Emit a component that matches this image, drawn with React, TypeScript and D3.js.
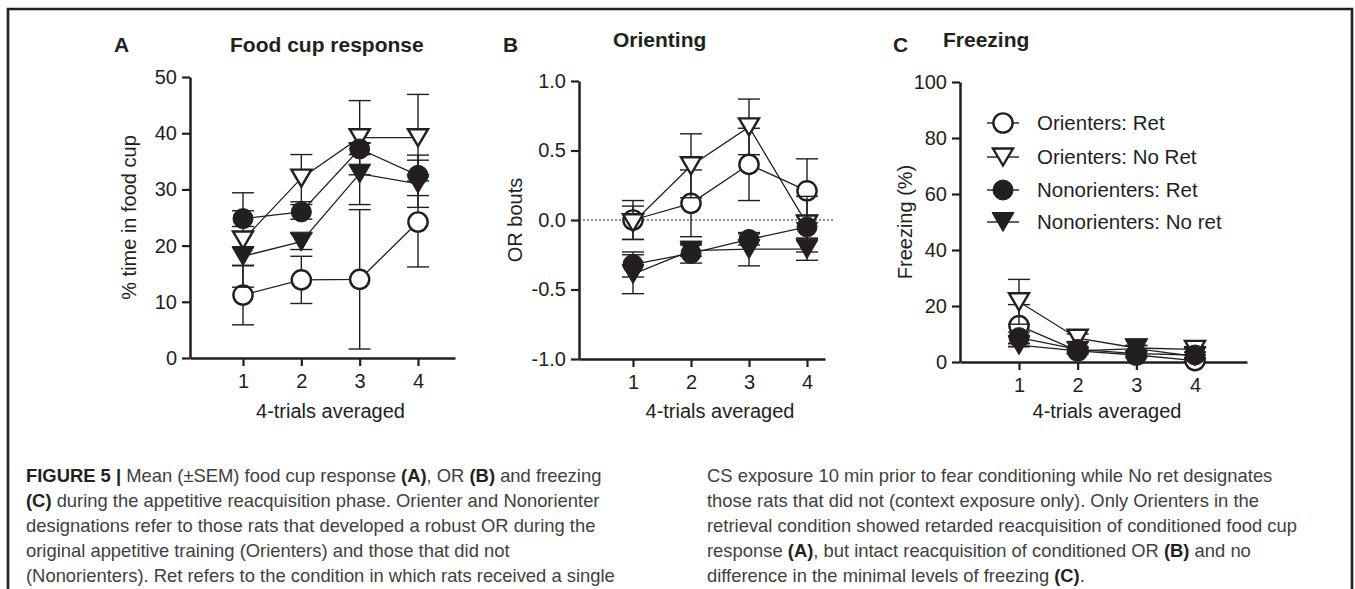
import React, { useEffect, useRef } from 'react';
import * as d3 from 'd3';

// x positions (4-trial blocks)
const trials = [1, 2, 3, 4];

// series: Orienters Ret, Orienters No Ret, Nonorienters Ret, Nonorienters No ret
const groupLabels = ['Orienters: Ret', 'Orienters: No Ret', 'Nonorienters: Ret', 'Nonorienters: No ret'];
const groupShapes = ['circle', 'triangle', 'circle', 'triangle'];
const groupFilled = [false, false, true, true];

// A - food cup response (%)
const foodMeans = [
    [11.2, 13.9, 14.0, 24.2],
    [21.0, 32.0, 39.2, 39.2],
    [24.8, 26.0, 37.2, 32.5],
    [18.1, 20.7, 32.8, 31.0],
];
const foodSems = [
    [5.3, 4.2, 12.4, 8.0],
    [8.4, 4.2, 6.6, 7.7],
    [1.4, 1.3, 1.0, 3.6],
    [1.7, 1.4, 5.5, 4.2],
];
const foodTicks = [0, 10, 20, 30, 40, 50];

// B - orienting bouts
const orientMeans = [
    [0.0, 0.12, 0.40, 0.21],
    [-0.02, 0.39, 0.67, -0.03],
    [-0.32, -0.24, -0.14, -0.05],
    [-0.39, -0.22, -0.21, -0.21],
];
const orientSems = [
    [0.14, 0.24, 0.26, 0.23],
    [0.12, 0.23, 0.2, 0.2],
    [0.09, 0.07, 0.04, 0.085],
    [0.14, 0.04, 0.12, 0.08],
];
const orientTicks = [-1, -0.5, 0, 0.5, 1];

// C - freezing (%)
const freezeMeans = [
    [13.0, 4.0, 2.5, 0.5],
    [21.5, 8.5, 5.0, 4.5],
    [8.7, 4.5, 3.0, 2.5],
    [6.0, 4.0, 4.8, 2.0],
];
const freezeSems = [
    [7.5, 1.0, 1.0, 0.5],
    [8.0, 1.5, 1.0, 1.0],
    [2.0, 1.0, 1.0, 1.0],
    [0.5, 1.0, 1.0, 0.5],
];
const freezeTicks = [0, 20, 40, 60, 80, 100];

const captionLeft = [
    [['FIGURE 5 | ', true], ['Mean (±SEM) food cup response ', false], ['(A)', true], [', OR ', false], ['(B)', true], [' and freezing', false]],
    [['(C)', true], [' during the appetitive reacquisition phase. Orienter and Nonorienter', false]],
    [['designations refer to those rats that developed a robust OR during the', false]],
    [['original appetitive training (Orienters) and those that did not', false]],
    [['(Nonorienters). Ret refers to the condition in which rats received a single', false]],
];
const captionRight = [
    [['CS exposure 10 min prior to fear conditioning while No ret designates', false]],
    [['those rats that did not (context exposure only). Only Orienters in the', false]],
    [['retrieval condition showed retarded reacquisition of conditioned food cup', false]],
    [['response ', false], ['(A)', true], [', but intact reacquisition of conditioned OR ', false], ['(B)', true], [' and no', false]],
    [['difference in the minimal levels of freezing ', false], ['(C)', true], ['.', false]],
];

const INK = '#231f20';
const FONT = 'Arial, "Liberation Sans", Helvetica, sans-serif';

const panels = [
    {
        letter: 'A', title: 'Food cup response', letterX: 114, titleX: 230, titleY: 52,
        yLabel: '% time in food cup', yLabelX: 129,
        axisX: 190, axisEnd: 455, x1: 243, x4: 418, yTop: 77, yBot: 358,
        domain: [0, 50], ticks: foodTicks, fmt: d3.format('d'),
        means: foodMeans, sems: foodSems, zeroLine: false,
    },
    {
        letter: 'B', title: 'Orienting', letterX: 503, titleX: 613, titleY: 47,
        yLabel: 'OR bouts', yLabelX: 515,
        axisX: 579, axisEnd: 825, x1: 633, x4: 807, yTop: 81, yBot: 359,
        domain: [-1, 1], ticks: orientTicks, fmt: (d: number) => d.toFixed(1),
        means: orientMeans, sems: orientSems, zeroLine: true,
    },
    {
        letter: 'C', title: 'Freezing', letterX: 893, titleX: 943, titleY: 47,
        yLabel: 'Freezing (%)', yLabelX: 905,
        axisX: 960, axisEnd: 1247, x1: 1019, x4: 1195, yTop: 82, yBot: 362,
        domain: [0, 100], ticks: freezeTicks, fmt: d3.format('d'),
        means: freezeMeans, sems: freezeSems, zeroLine: false,
    },
];

const triPath = (w: number, h: number) => `M${-w / 2},${-h / 2}L${w / 2},${-h / 2}L0,${h / 2}Z`;

function drawMarker(g: any, shape: string, filled: boolean, x: number, y: number) {
    if (shape === 'circle') {
        g.append('circle')
            .attr('cx', x).attr('cy', y).attr('r', filled ? 10 : 9.6)
            .attr('fill', filled ? INK : '#fff')
            .attr('stroke', INK).attr('stroke-width', filled ? 1 : 2.4);
    } else {
        g.append('path')
            .attr('transform', `translate(${x},${y})`)
            .attr('d', filled ? triPath(22, 19) : triPath(20, 17))
            .attr('fill', filled ? INK : '#fff')
            .attr('stroke', INK).attr('stroke-width', filled ? 1 : 2.4)
            .attr('stroke-linejoin', 'miter');
    }
}

const App: React.FC = () => {
    const svgRef = useRef<SVGSVGElement>(null);

    useEffect(() => {
        if (!svgRef.current) return;
        const svg = d3.select(svgRef.current);
        svg.selectAll('*').remove();

        // outer frame (open at the bottom)
        svg.append('path')
            .attr('d', 'M8,589V9H1352V589')
            .attr('fill', 'none').attr('stroke', INK).attr('stroke-width', 2.6);

        panels.forEach((p) => {
            const xScale = d3.scaleLinear().domain([1, 4]).range([p.x1, p.x4]);
            const yScale = d3.scaleLinear().domain(p.domain).range([p.yBot, p.yTop]);
            const g = svg.append('g').attr('font-family', FONT);

            g.append('text').attr('x', p.letterX).attr('y', 52)
                .attr('font-size', 21).attr('font-weight', 'bold').attr('fill', INK).text(p.letter);
            g.append('text').attr('x', p.titleX).attr('y', p.titleY)
                .attr('font-size', 21).attr('font-weight', 'bold').attr('fill', INK).text(p.title);

            // y axis
            const yAxis = g.append('g')
                .attr('transform', `translate(${p.axisX},0)`)
                .call(d3.axisLeft(yScale).tickValues(p.ticks).tickFormat(p.fmt as any).tickSize(8).tickSizeOuter(0).tickPadding(5));
            // x axis
            const xAxisScale = d3.scaleLinear()
                .domain([xScale.invert(p.axisX), xScale.invert(p.axisEnd)])
                .range([p.axisX, p.axisEnd]);
            const xAxis = g.append('g')
                .attr('transform', `translate(0,${p.yBot})`)
                .call(d3.axisBottom(xAxisScale).tickValues(trials).tickFormat(d3.format('d') as any).tickSize(8).tickSizeOuter(0).tickPadding(8));
            [yAxis, xAxis].forEach((ax) => {
                ax.select('.domain').attr('stroke', INK).attr('stroke-width', 2.5);
                ax.selectAll('.tick line').attr('stroke', INK).attr('stroke-width', 2.2);
                ax.selectAll('.tick text').attr('fill', INK).attr('font-size', 20).attr('font-family', FONT);
            });

            g.append('text')
                .attr('transform', `translate(${p.yLabelX},${(p.yTop + p.yBot) / 2}) rotate(-90)`)
                .attr('text-anchor', 'middle').attr('dy', '0.35em')
                .attr('font-size', 20).attr('fill', INK).text(p.yLabel);
            g.append('text')
                .attr('x', (p.x1 + p.x4) / 2).attr('y', 418)
                .attr('text-anchor', 'middle').attr('font-size', 20).attr('fill', INK)
                .text('4-trials averaged');

            if (p.zeroLine) {
                g.append('line')
                    .attr('x1', p.axisX).attr('x2', p.axisEnd + 8)
                    .attr('y1', yScale(0)).attr('y2', yScale(0))
                    .attr('stroke', INK).attr('stroke-width', 1.2).attr('stroke-dasharray', '2,2');
            }

            const line = d3.line<number>()
                .x((d, i) => xScale(trials[i]))
                .y((d) => yScale(d));

            p.means.forEach((series, s) => {
                const sg = g.append('g');
                series.forEach((m, i) => {
                    const x = xScale(trials[i]);
                    const hi = yScale(m + p.sems[s][i]);
                    const lo = yScale(m - p.sems[s][i]);
                    sg.append('line').attr('x1', x).attr('x2', x).attr('y1', hi).attr('y2', lo)
                        .attr('stroke', INK).attr('stroke-width', 1.4);
                    [hi, lo].forEach((yy) => {
                        sg.append('line').attr('x1', x - 11).attr('x2', x + 11).attr('y1', yy).attr('y2', yy)
                            .attr('stroke', INK).attr('stroke-width', 1.4);
                    });
                });
                sg.append('path').datum(series)
                    .attr('d', line).attr('fill', 'none').attr('stroke', INK).attr('stroke-width', 1.3);
                series.forEach((m, i) => drawMarker(sg, groupShapes[s], groupFilled[s], xScale(trials[i]), yScale(m)));
            });
        });

        // legend in panel C
        const legendYs = [123, 157, 190, 222];
        const lg = svg.append('g').attr('font-family', FONT);
        groupLabels.forEach((label, i) => {
            const y = legendYs[i];
            lg.append('line').attr('x1', 987).attr('x2', 1019).attr('y1', y).attr('y2', y)
                .attr('stroke', INK).attr('stroke-width', 1.4);
            drawMarker(lg, groupShapes[i], groupFilled[i], 1003, y);
            lg.append('text').attr('x', 1037).attr('y', y).attr('dy', '0.35em')
                .attr('font-size', 20.5).attr('fill', INK).text(label);
        });

        // caption
        const cap = svg.append('g').attr('font-family', FONT).attr('font-size', 18.4).attr('fill', '#404040');
        const drawCaption = (lines: any[], x: number) => {
            lines.forEach((parts: any[], i: number) => {
                const t = cap.append('text').attr('x', x).attr('y', 482 + i * 25);
                parts.forEach(([txt, bold]: [string, boolean]) => {
                    t.append('tspan')
                        .attr('font-weight', bold ? 'bold' : 'normal')
                        .attr('fill', bold ? '#231f20' : '#404040')
                        .text(txt);
                });
            });
        };
        drawCaption(captionLeft, 26);
        drawCaption(captionRight, 707);
    }, []);

    return (
        <svg ref={svgRef} width={1355} height={589}
            style={{ position: 'absolute', left: 0, top: 0, background: '#fff' }} />
    );
};

export default App;
